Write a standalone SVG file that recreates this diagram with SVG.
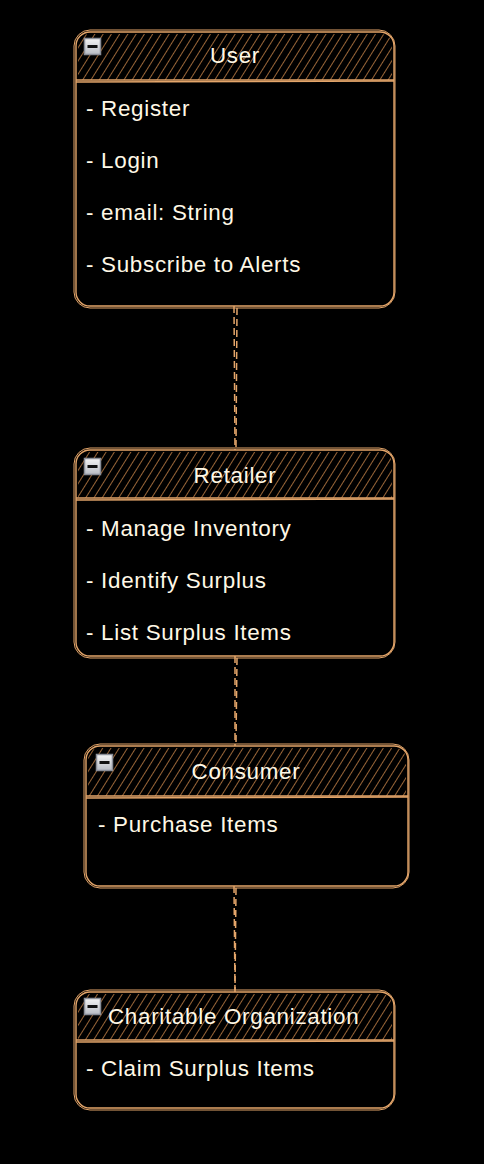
<svg xmlns="http://www.w3.org/2000/svg" width="484" height="1164" viewBox="0 0 484 1164">
<style>
.box{fill:#000;stroke:#E3A56A;stroke-width:1.4}
.box2{fill:none;stroke:#E3A56A;stroke-width:1}
.hdr{fill:url(#hatch);stroke:none}
.sep{stroke:#E3A56A;stroke-width:1.4}
.t{font-family:"Liberation Sans",Arial,sans-serif;font-size:22.4px;letter-spacing:0.7px;fill:#FFF8E6}
.tc{text-anchor:middle}
.con{stroke:#E3A56A;stroke-width:1.5;stroke-dasharray:7 4;fill:none}
</style>
<defs>
<pattern id="hatch" width="7" height="7" patternUnits="userSpaceOnUse" patternTransform="rotate(32)">
<line x1="0" y1="0" x2="0" y2="7" stroke="#DA9050" stroke-width="1.4"/>
</pattern>
<linearGradient id="ig" x1="0" y1="0" x2="0" y2="1">
<stop offset="0" stop-color="#F4F4F4"/><stop offset="1" stop-color="#B8BCC4"/>
</linearGradient>
<g id="icon">
<rect x="0.5" y="0.5" width="16" height="16" fill="url(#ig)" stroke="#8A8E98" stroke-width="1.5"/>
<rect x="3.5" y="7" width="10" height="3" fill="#111"/>
</g>
</defs>
<rect width="484" height="1164" fill="#000"/>
<g id="connectors">
<path class="con" d="M234 306 L235 450"/>
<path class="con" d="M237 308 L236 448"/>
<path class="con" d="M235 656 L235 746"/>
<path class="con" d="M237 658 L236 744"/>
<path class="con" d="M234 886 L235 992"/>
<path class="con" d="M236 888 L235 990"/>
</g>
<g id="user">
<rect class="box" x="76" y="32" width="318" height="274" rx="14"/>
<path class="hdr" d="M90 34 H380 Q392 34 392 46 V80 H78 V46 Q78 34 90 34Z"/>
<rect class="box2" x="74" y="30" width="321" height="278" rx="16"/>
<line class="sep" x1="76" y1="80" x2="394" y2="80"/>
<line class="sep" x1="76" y1="82" x2="394" y2="81"/>
<use href="#icon" x="84" y="38"/>
<text class="t tc" x="235" y="63">User</text>
<text class="t" x="86" y="116">- Register</text>
<text class="t" x="86" y="168">- Login</text>
<text class="t" x="86" y="220">- email: String</text>
<text class="t" x="86" y="272">- Subscribe to Alerts</text>
</g>
<g id="retailer">
<rect class="box" x="76" y="450" width="318" height="206" rx="14"/>
<path class="hdr" d="M90 452 H380 Q392 452 392 464 V498 H78 V464 Q78 452 90 452Z"/>
<rect class="box2" x="74" y="448" width="321" height="210" rx="16"/>
<line class="sep" x1="76" y1="498" x2="394" y2="498"/>
<line class="sep" x1="76" y1="500" x2="394" y2="499"/>
<use href="#icon" x="84" y="458"/>
<text class="t tc" x="235" y="483">Retailer</text>
<text class="t" x="86" y="536">- Manage Inventory</text>
<text class="t" x="86" y="588">- Identify Surplus</text>
<text class="t" x="86" y="640">- List Surplus Items</text>
</g>
<g id="consumer">
<rect class="box" x="86" y="746" width="322" height="140" rx="14"/>
<path class="hdr" d="M100 748 H394 Q406 748 406 760 V796 H88 V760 Q88 748 100 748Z"/>
<rect class="box2" x="84" y="744" width="325" height="144" rx="16"/>
<line class="sep" x1="86" y1="796" x2="408" y2="796"/>
<line class="sep" x1="86" y1="798" x2="408" y2="797"/>
<use href="#icon" x="96" y="754"/>
<text class="t tc" x="246" y="779">Consumer</text>
<text class="t" x="98" y="832">- Purchase Items</text>
</g>
<g id="charitable">
<rect class="box" x="76" y="992" width="318" height="116" rx="14"/>
<path class="hdr" d="M90 994 H380 Q392 994 392 1006 V1040 H78 V1006 Q78 994 90 994Z"/>
<rect class="box2" x="74" y="990" width="321" height="120" rx="16"/>
<line class="sep" x1="76" y1="1040" x2="394" y2="1040"/>
<line class="sep" x1="76" y1="1042" x2="394" y2="1041"/>
<use href="#icon" x="84" y="998"/>
<text class="t" x="108" y="1024">Charitable Organization</text>
<text class="t" x="86" y="1076">- Claim Surplus Items</text>
</g>
</svg>
